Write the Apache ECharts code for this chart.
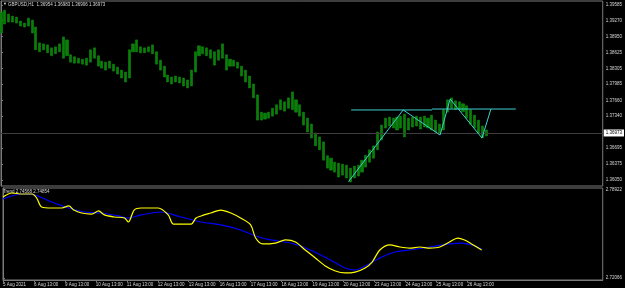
<!DOCTYPE html>
<html><head><meta charset="utf-8">
<script src="https://cdn.jsdelivr.net/npm/echarts@6/dist/echarts.min.js"></script>
<style>html,body{margin:0;padding:0;background:#000}#c{width:625px;height:288px}</style>
</head><body><div id="c"></div>
<script>
// time-axis labels (one every 8 three-hour bars = one trading day)
const timeLabels = ['5 Aug 2021','6 Aug 13:00','9 Aug 13:00','10 Aug 13:00','11 Aug 13:00','12 Aug 13:00','13 Aug 13:00','16 Aug 13:00','17 Aug 13:00','18 Aug 13:00','19 Aug 13:00','20 Aug 13:00','23 Aug 13:00','24 Aug 13:00','25 Aug 13:00','26 Aug 13:00'];
const priceTicks = [1.39585,1.39270,1.38950,1.38625,1.38305,1.37985,1.37660,1.37340,1.36695,1.36375,1.36050];
const trendTicks = [2.78922,2.72066];
const lastPrice = 1.36973;
// 3-hour bars, high / low
const hi = [1.3944,1.3948,1.3940,1.3936,1.3934,1.3926,1.3922,1.3932,1.3928,1.3914,1.3882,1.3880,1.3878,1.3872,1.3874,1.3880,1.3894,1.3888,1.3858,1.3854,1.3851,1.3849,1.3851,1.3868,1.3872,1.3856,1.3845,1.3843,1.3845,1.3839,1.3833,1.3827,1.3823,1.3868,1.3880,1.3888,1.3874,1.3872,1.3874,1.3878,1.3864,1.3847,1.3835,1.3817,1.3813,1.3815,1.3813,1.3811,1.3807,1.3827,1.3864,1.3876,1.3874,1.3872,1.3868,1.3864,1.3868,1.3880,1.3858,1.3849,1.3847,1.3843,1.3835,1.3827,1.3815,1.3799,1.3777,1.3742,1.3740,1.3742,1.3750,1.3757,1.3767,1.3763,1.3771,1.3783,1.3767,1.3757,1.3742,1.3730,1.3718,1.3700,1.3692,1.3682,1.3654,1.3649,1.3641,1.3639,1.3637,1.3635,1.3629,1.3633,1.3635,1.3645,1.3655,1.3666,1.3674,1.3702,1.3716,1.3730,1.3732,1.3730,1.3732,1.3734,1.3738,1.3730,1.3732,1.3734,1.3732,1.3734,1.3730,1.3736,1.3726,1.3718,1.3747,1.3767,1.3771,1.3765,1.3763,1.3759,1.3755,1.3747,1.3736,1.3726,1.3714,1.3706];
const lo = [1.3902,1.3920,1.3924,1.3924,1.3922,1.3916,1.3914,1.3916,1.3902,1.3868,1.3864,1.3868,1.3862,1.3856,1.3860,1.3864,1.3851,1.3856,1.3843,1.3841,1.3841,1.3839,1.3837,1.3843,1.3851,1.3835,1.3831,1.3827,1.3831,1.3825,1.3819,1.3811,1.3803,1.3811,1.3864,1.3864,1.3862,1.3862,1.3864,1.3860,1.3839,1.3827,1.3813,1.3803,1.3799,1.3803,1.3801,1.3795,1.3791,1.3795,1.3823,1.3856,1.3860,1.3856,1.3851,1.3837,1.3847,1.3851,1.3827,1.3835,1.3835,1.3831,1.3815,1.3803,1.3791,1.3771,1.3726,1.3726,1.3728,1.3730,1.3734,1.3738,1.3747,1.3744,1.3750,1.3747,1.3742,1.3734,1.3716,1.3702,1.3690,1.3674,1.3666,1.3645,1.3629,1.3625,1.3621,1.3611,1.3615,1.3609,1.3601,1.3609,1.3613,1.3621,1.3631,1.3641,1.3649,1.3666,1.3686,1.3710,1.3714,1.3710,1.3706,1.3710,1.3692,1.3706,1.3712,1.3714,1.3708,1.3712,1.3710,1.3706,1.3702,1.3698,1.3706,1.3742,1.3750,1.3747,1.3747,1.3743,1.3730,1.3718,1.3710,1.3700,1.3690,1.3694];
// indicator pane (x in bar index)
const yelX = [0,2.3,4.9,7.5,8.7,10,12.6,15.2,17,18.3,20.3,22.9,24.7,26.2,28.8,31.4,32.4,33.9,35.7,40.1,42.7,44,46,48.6,49.9,51.2,53.7,56.3,58.9,61.4,64,65.3,67.1,70.4,73,75.6,78.1,80.7,83.3,85.9,88.4,91,93.6,95.4,97.4,100,102.6,105.1,107.7,110.3,112.9,115.4,117.5,119.3,121.1,123.7];
const yelV = [2.7838,2.7869,2.7861,2.7861,2.7830,2.7760,2.7752,2.7752,2.7768,2.7736,2.7713,2.7705,2.7729,2.7698,2.7682,2.7674,2.7643,2.7736,2.7752,2.7752,2.7698,2.7627,2.7627,2.7627,2.7674,2.7690,2.7713,2.7736,2.7713,2.7674,2.7620,2.7518,2.7472,2.7479,2.7503,2.7487,2.7425,2.7363,2.7300,2.7261,2.7246,2.7253,2.7285,2.7331,2.7425,2.7464,2.7448,2.7440,2.7448,2.7440,2.7448,2.7487,2.7518,2.7503,2.7472,2.7425];
const bluX = [0,4.9,8.2,12.6,17,21.1,25.4,29.8,32.4,35.7,40.9,46,51.2,56.3,61.4,65.3,69.2,74.3,79.4,84.6,88.4,91,93.6,97.4,101.3,105.1,110.3,115.4,118.5,121.1,123.7];
const bluV = [2.7822,2.7861,2.7853,2.7799,2.7752,2.7721,2.7713,2.7690,2.7674,2.7698,2.7721,2.7682,2.7643,2.7620,2.7581,2.7534,2.7503,2.7479,2.7425,2.7347,2.7285,2.7269,2.7300,2.7363,2.7409,2.7425,2.7448,2.7472,2.7479,2.7464,2.7433];
// drawn cyan objects (bar index, price)
const zigX = [89.5,103.6,113.1,115.7,123.9,126.2];
const zigP = [1.36016,1.37465,1.36959,1.37686,1.36898,1.37484];
const levelA = [[90.2,1.37465],[111.0,1.37465]];
const levelB = [[111.0,1.37484],[132.6,1.37484]];

const NCAT = 156;
const cats = Array.from({length:NCAT},(_,i)=>String(i));
const isTick = i => i%8===0 && (i/8) < timeLabels.length;
const bars = hi.map((h,i)=>[lo[i],h,lo[i],h]);

const chart = echarts.init(document.getElementById('c'),null,{renderer:'canvas'});
const txt = '#d8d8d8', brd = '#7a7a7a', FS = 4.5, FF = 'Liberation Sans';
chart.setOption({
  backgroundColor:'#000',
  animation:false,
  textStyle:{fontFamily:FF},
  grid:[
    {left:1,right:21,top:1,height:185,show:true,borderColor:brd,borderWidth:1,backgroundColor:'#000'},
    {left:1,right:21,top:188,height:92,show:true,borderColor:brd,borderWidth:1,backgroundColor:'#000'}
  ],
  xAxis:[
    {type:'category',gridIndex:0,data:cats,boundaryGap:false,axisLine:{show:false},axisTick:{show:false},axisLabel:{show:false},splitLine:{show:false}},
    {type:'value',gridIndex:0,min:0,max:NCAT-1,show:false},
    {type:'category',gridIndex:1,data:cats,boundaryGap:false,
      axisLine:{show:true,lineStyle:{color:brd}},
      axisTick:{show:true,interval:(i)=>isTick(i),length:2,lineStyle:{color:brd}},
      axisLabel:{show:true,interval:(i)=>isTick(i),formatter:(v,i)=>timeLabels[i/8]||'',color:txt,fontSize:FS,fontFamily:FF,align:'left',margin:2},
      splitLine:{show:false}},
    {type:'value',gridIndex:1,min:0,max:NCAT-1,show:false}
  ],
  yAxis:[
    {type:'value',gridIndex:0,position:'right',min:1.35929,max:1.39666,scale:true,
      axisLine:{show:true,lineStyle:{color:brd}},
      axisTick:{show:true,customValues:priceTicks,length:2,lineStyle:{color:brd}},
      axisLabel:{show:true,customValues:priceTicks,formatter:v=>v.toFixed(5),color:txt,fontSize:FS,fontFamily:FF,margin:3},
      splitLine:{show:false}},
    {type:'value',gridIndex:1,position:'right',min:2.71911,max:2.79078,scale:true,
      axisLine:{show:true,lineStyle:{color:brd}},
      axisTick:{show:true,customValues:trendTicks,length:2,lineStyle:{color:brd}},
      axisLabel:{show:true,customValues:trendTicks,formatter:v=>v.toFixed(5),color:txt,fontSize:FS,fontFamily:FF,margin:3},
      splitLine:{show:false}}
  ],
  graphic:[
    {type:'text',left:3,top:2,style:{text:'▼',fill:txt,font:'4px '+FF}},
    {type:'text',left:8,top:2,style:{text:'GBPUSD,H1  1.36954 1.36983 1.36906 1.36973',fill:txt,font:FS+'px '+FF}},
    {type:'text',left:3,top:189,style:{text:'Trend 2.74568 2.74854',fill:txt,font:FS+'px '+FF}}
  ],
  series:[
    {type:'candlestick',xAxisIndex:0,yAxisIndex:0,data:bars,barWidth:2.6,
      itemStyle:{color:'#0a7d0a',color0:'#0a7d0a',borderColor:'#0f9a0f',borderColor0:'#0f9a0f',borderWidth:0.5},
      markLine:{silent:true,symbol:'none',data:[{yAxis:lastPrice}],
        lineStyle:{color:'#3c3c3c',type:'solid',width:1},
        label:{position:'end',formatter:lastPrice.toFixed(5),backgroundColor:'#fff',color:'#000',fontSize:FS,fontFamily:FF,padding:[1,2],distance:1}}},
    {type:'line',xAxisIndex:1,yAxisIndex:0,data:zigX.map((x,i)=>[x,zigP[i]]),symbol:'none',lineStyle:{color:'#3fd0d0',width:1},z:5},
    {type:'line',xAxisIndex:1,yAxisIndex:0,data:levelA,symbol:'none',lineStyle:{color:'#3fd0d0',width:1},z:5},
    {type:'line',xAxisIndex:1,yAxisIndex:0,data:levelB,symbol:'none',lineStyle:{color:'#3fd0d0',width:1},z:5},
    {type:'line',xAxisIndex:3,yAxisIndex:1,data:bluX.map((x,i)=>[x,bluV[i]]),symbol:'none',smooth:0.3,lineStyle:{color:'#0000ff',width:1.2}},
    {type:'line',xAxisIndex:3,yAxisIndex:1,data:yelX.map((x,i)=>[x,yelV[i]]),symbol:'none',smooth:0.3,lineStyle:{color:'#ffff00',width:1.2}}
  ]
});
</script></body></html>
